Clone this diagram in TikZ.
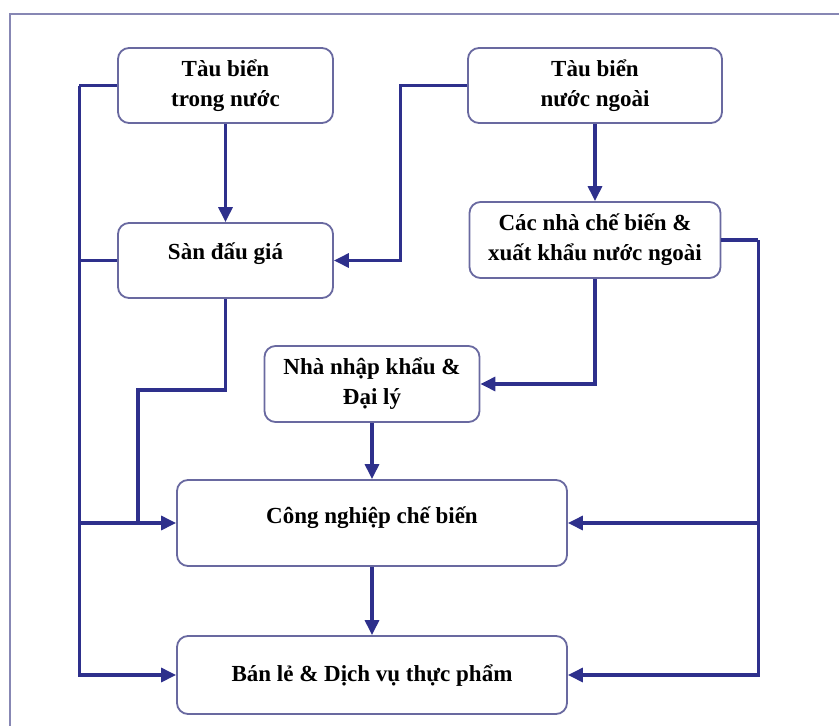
\documentclass[tikz,border=0pt]{standalone}
\usepackage{fontspec}
\setmainfont{Liberation Serif}
\usetikzlibrary{arrows.meta}
\definecolor{flowblue}{RGB}{46,48,140}
\definecolor{boxline}{RGB}{105,105,160}
\definecolor{framegray}{RGB}{135,135,180}

\begin{document}
\begin{tikzpicture}[
	x=1pt, y=-1pt,
	box/.style={
		draw=boxline, line width=1.8pt, rounded corners=11pt,
		align=center, inner sep=0pt, text=black,
		font=\fontsize{23}{30}\selectfont\bfseries
	},
	oneline/.style={text height=16pt, text depth=#1},
	link/.style={draw=flowblue, line width=3.2pt},
	>={Triangle[length=15pt,width=14pt]}
	]
	\useasboundingbox (0,0) rectangle (839,726);
	\draw[framegray, line width=1.5pt] (10,740) -- (10,14) -- (850,14);

	\node[box, minimum width=215pt, minimum height=75pt] (domestic) at (225.5,85.5) {Tàu biển\\trong nước};
	\node[box, minimum width=254pt, minimum height=75pt] (foreign) at (595,85.5) {Tàu biển\\nước ngoài};
	\node[box, oneline=18pt, minimum width=215pt, minimum height=75pt] (auction) at (225.5,260.5) {Sàn đấu giá};
	\node[box, minimum width=251pt, minimum height=76pt] (exporter) at (595,240) {Các nhà chế biến \&\\xuất khẩu nước ngoài};
	\node[box, minimum width=215pt, minimum height=76pt] (importer) at (372,384) {Nhà nhập khẩu \&\\Đại lý};
	\node[box, oneline=16pt, minimum width=390pt, minimum height=86pt] (industry) at (372,523) {Công nghiệp chế biến};
	\node[box, oneline=4pt, minimum width=390pt, minimum height=78pt] (retail) at (372,675) {Bán lẻ \& Dịch vụ thực phẩm};

	\coordinate (merge) at (138,523);

	\draw[link,->] (domestic) -- (auction);
	\draw[link,->] (foreign) -- (exporter);
	\draw[link,->] (foreign.west) -- ++(-67,0) |- (auction.east);
	% left side
	\draw[link] (domestic.west) -- ++(-38,0) coordinate (bus left);
	\draw[link,->] (bus left) |- (retail.west);
	\draw[link] (auction.west) -- (bus left |- auction.west);
	\draw[link,->] (bus left |- industry.west) -- (industry.west);
	\draw[link] (auction.south) -- ++(0,91) -| (merge);
	% right side
	\draw[link,->] (exporter.south) |- (importer.east);
	\draw[link] (exporter.east) -- ++(37,0) coordinate (bus right);
	\draw[link,->] (bus right) |- (retail.east);
	\draw[link,->] (bus right |- industry.east) -- (industry.east);
	\draw[link,->] (importer) -- (industry);
	\draw[link,->] (industry) -- (retail);
\end{tikzpicture}
\end{document}
